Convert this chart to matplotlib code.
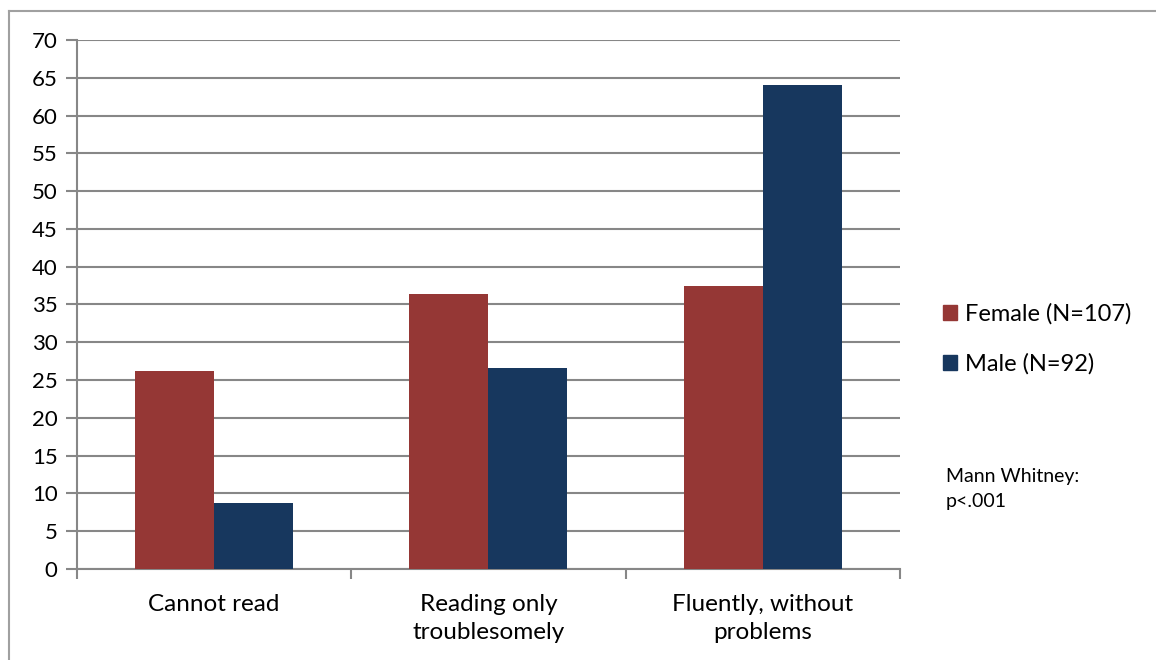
import matplotlib
matplotlib.use('Agg')
import matplotlib.pyplot as plt
from matplotlib.lines import Line2D
from matplotlib.patches import Patch
import numpy as np

categories = ['Cannot read', 'Reading only\ntroublesomely', 'Fluently, without\nproblems']
female = [26.2, 36.4, 37.4]
male = [8.7, 26.6, 64.0]
series_labels = ['Female (N=107)', 'Male (N=92)']
colors = ['#953735', '#17375E']
yticks = list(range(0, 75, 5))

plt.rcParams['font.family'] = ['Lato', 'DejaVu Sans']
gray = '#878787'

fig = plt.figure(figsize=(11.56, 6.6), dpi=100)
ax = fig.add_axes([0.0666, 0.1379, 0.7119, 0.8015])

x = np.arange(len(categories))
w = 0.288
ax.bar(x - w / 2, female, w, color=colors[0], zorder=3)
ax.bar(x + w / 2, male, w, color=colors[1], zorder=3)

ax.set_xlim(-0.5, len(categories) - 0.5)
ax.set_ylim(0, 70)
ax.set_yticks(yticks)
ax.tick_params(axis='y', length=8, width=1.5, color=gray, labelsize=16, pad=6)
ax.yaxis.grid(True, color=gray, linewidth=1.5, zorder=0)

# category labels centred, tick marks on the category boundaries
ax.set_xticks(x)
ax.set_xticklabels(categories, fontsize=17.5, linespacing=1.4)
ax.tick_params(axis='x', length=0, pad=18)
ax.set_xticks(np.arange(len(categories) + 1) - 0.5, minor=True)
ax.tick_params(axis='x', which='minor', length=7, width=1.5, color=gray)

for side in ['top', 'right']:
    ax.spines[side].set_visible(False)
for side in ['left', 'bottom']:
    ax.spines[side].set_color(gray)
    ax.spines[side].set_linewidth(1.5)

handles = [Patch(color=c) for c in colors]
fig.legend(handles, series_labels, loc='center left',
           bbox_to_anchor=(0.797, 0.486), frameon=False, fontsize=17,
           handlelength=0.6, handleheight=0.6, handletextpad=0.35,
           labelspacing=1.2)

fig.text(0.818, 0.259, 'Mann Whitney:\np<.001', fontsize=14, va='center',
         linespacing=1.55)

# outer frame (left and top edges)
fig.add_artist(Line2D([0.0075, 0.0075], [0.0, 0.984], color='#a0a0a0',
                      linewidth=1.5, transform=fig.transFigure))
fig.add_artist(Line2D([0.0075, 1.0], [0.984, 0.984], color='#a0a0a0',
                      linewidth=1.5, transform=fig.transFigure))

fig.savefig('out.png', dpi=100)
